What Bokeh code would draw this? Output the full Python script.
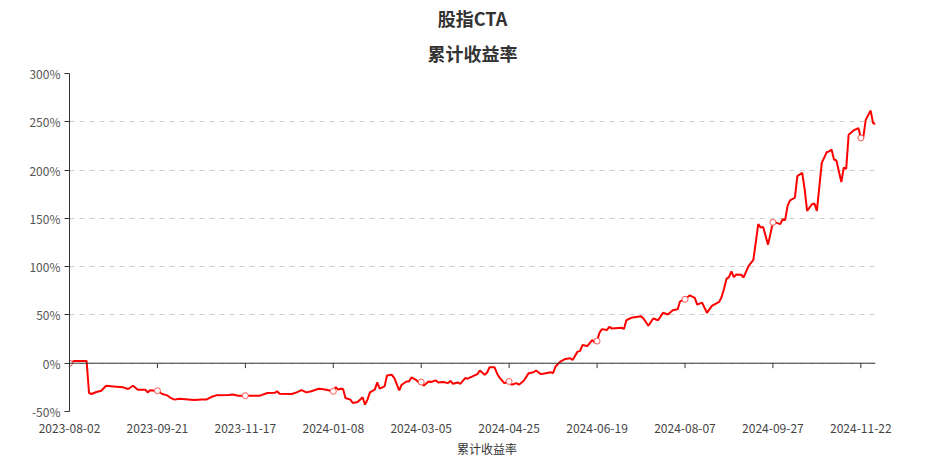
from bokeh.plotting import figure
from bokeh.layouts import column
from bokeh.models import Range1d, FixedTicker, Span, Legend, LegendItem, Title
from bokeh.embed import file_html
from bokeh.resources import INLINE

# ---------------- data ----------------
title_line1 = "股指CTA"
title_line2 = "累计收益率"
series_name = "累计收益率"

# category (trading-day) index of the labelled dates
tick_idx = [0, 36, 72, 108, 144, 180, 216, 252, 288, 324]
tick_dates = ["2023-08-02", "2023-09-21", "2023-11-17", "2024-01-08", "2024-03-05",
              "2024-04-25", "2024-06-19", "2024-08-07", "2024-09-27", "2024-11-22"]
n_days = 331

y_ticks = [-50, 0, 50, 100, 150, 200, 250, 300]
y_labels = ["-50%", "0%", "50%", "100%", "150%", "200%", "250%", "300%"]

day_idx = [0, 2, 7, 8, 9, 11, 13, 15, 18, 22, 24, 26, 28, 31, 32, 33, 35, 36, 38, 40,
           41, 43, 45, 51, 54, 56, 58, 60, 65, 67, 69, 72, 78, 81, 84, 85, 86, 91, 93, 95,
           97, 99, 102, 104, 108, 109, 110, 111, 112, 113, 115, 116, 118, 120, 121, 122, 123, 125, 126, 127,
           129, 130, 132, 133, 135, 136, 138, 139, 140, 142, 143, 144, 145, 147, 148, 150, 151, 153, 155, 156,
           157, 159, 160, 162, 163, 165, 167, 168, 170, 171, 172, 174, 175, 176, 178, 180, 181, 183, 184, 186,
           188, 190, 191, 193, 195, 197, 198, 199, 201, 203, 205, 206, 208, 209, 210, 212, 214, 215, 216, 217,
           218, 220, 221, 222, 226, 227, 228, 230, 234, 235, 237, 239, 241, 243, 245, 247, 249, 250, 252, 254,
           256, 257, 259, 261, 263, 266, 267, 268, 269, 270, 271, 272, 273, 275, 276, 278, 280, 282, 283, 284,
           286, 288, 289, 291, 292, 293, 294, 295, 297, 298, 300, 301, 302, 304, 305, 306, 308, 310, 311, 312,
           313, 314, 316, 317, 318, 319, 321, 323, 324, 325, 326, 328, 329, 330]

ret_pct = [0.0, 2.4, 2.4, -30.9, -31.9, -29.8, -28.5, -23.3, -24.0, -25.0, -26.7, -23.3, -27.4, -27.4, -30.2, -28.0, -28.5, -28.5, -31.9, -33.3,
           -35.3, -37.7, -36.7, -38.0, -37.5, -37.7, -35.0, -33.3, -32.9, -32.5, -33.6, -33.6, -33.6, -30.9, -30.6, -29.1, -31.6, -31.9, -30.2, -27.8,
           -30.2, -29.1, -26.4, -27.0, -29.1, -24.7, -27.4, -26.4, -26.7, -36.0, -37.7, -41.2, -40.1, -35.3, -42.9, -37.7, -30.2, -27.4, -19.9, -26.4,
           -24.0, -12.7, -12.0, -15.4, -28.1, -22.3, -18.9, -18.9, -14.7, -17.5, -19.9, -19.5, -23.3, -18.9, -19.5, -17.8, -19.9, -19.5, -20.6, -18.2,
           -21.3, -19.9, -21.3, -15.4, -16.0, -13.7, -11.3, -7.5, -12.0, -9.6, -4.1, -4.1, -10.3, -14.7, -20.6, -18.9, -22.3, -20.6, -22.3, -18.2,
           -10.3, -9.3, -7.5, -11.3, -10.3, -9.3, -10.3, -3.4, 1.7, 4.4, 5.1, 3.4, 12.0, 12.5, 18.8, 17.8, 24.0, 21.6, 22.9, 31.6,
           35.3, 34.3, 37.7, 36.0, 36.7, 35.5, 44.5, 47.0, 48.7, 46.3, 38.8, 46.3, 44.5, 52.2, 50.4, 54.9, 55.9, 64.1, 66.2, 70.3,
           67.6, 60.7, 62.8, 52.2, 59.4, 63.5, 68.6, 77.2, 87.4, 89.2, 95.0, 89.2, 91.9, 91.6, 88.8, 100.5, 107.0, 144.0, 140.6, 141.0,
           122.8, 145.8, 145.8, 144.0, 149.1, 148.1, 162.9, 168.7, 171.5, 193.7, 197.2, 180.0, 157.7, 164.6, 165.3, 157.7, 207.5, 218.4, 219.4, 221.2,
           210.9, 209.9, 187.6, 202.4, 201.3, 236.6, 241.0, 243.5, 233.2, 233.9, 252.0, 261.6, 248.7, 247.6]

# ---------------- style ----------------
FONT = "Noto Sans CJK SC"
LINE_RED = "#ff0000"

p = figure(width=914, height=435, output_backend="svg", toolbar_location=None,
           x_range=Range1d(0, n_days - 1), y_range=Range1d(-50, 300),
           min_border_left=69, min_border_right=39, min_border_top=73, min_border_bottom=22)
p.outline_line_color = None

# titles: p.title is the outer line, the added Title sits next to the frame
p.title.text = title_line1
p.title.align = "center"
p.title.text_font = FONT
p.title.text_font_size = "18px"
p.title.text_font_style = "bold"
p.title.text_color = "#333333"
p.title.standoff = 0
p.title.text_line_height = 1.0
p.add_layout(Title(text=title_line2, align="center", text_font=FONT, text_font_size="18px",
                   text_font_style="bold", text_color="#333333", standoff=15,
                   text_line_height=1.0), "above")

# grid
p.xgrid.visible = False
p.ygrid.ticker = FixedTicker(ticks=y_ticks)
p.ygrid.grid_line_color = "#cccccc"
p.ygrid.grid_line_dash = "5 5"
p.ygrid.grid_line_width = 1

# y axis
p.yaxis.ticker = FixedTicker(ticks=y_ticks)
p.yaxis.major_label_overrides = {k: v for k, v in zip(y_ticks, y_labels)}
p.yaxis.axis_line_color = "#333333"
p.yaxis.major_tick_line_color = "#333333"
p.yaxis.major_tick_out = 5
p.yaxis.major_tick_in = 0
p.yaxis.minor_tick_out = 0
p.yaxis.minor_tick_in = 0
p.yaxis.major_label_standoff = 4
p.yaxis.major_label_text_font = FONT
p.yaxis.major_label_text_font_size = "12px"
p.yaxis.major_label_text_color = "#555555"

# x axis (labels only, line drawn at zero)
p.xaxis.ticker = FixedTicker(ticks=tick_idx)
p.xaxis.major_label_overrides = {k: v for k, v in zip(tick_idx, tick_dates)}
p.xaxis.axis_line_color = None
p.xaxis.major_tick_line_color = None
p.xaxis.minor_tick_line_color = None
p.xaxis.major_label_standoff = 6
p.xaxis.major_label_text_font = FONT
p.xaxis.major_label_text_font_size = "12px"
p.xaxis.major_label_text_color = "#444444"

# zero axis line with ticks
p.add_layout(Span(location=0, dimension="width", line_color="#333333", line_width=1))
tick_len = 5 * 350 / 340
p.segment(x0=tick_idx, y0=[0] * len(tick_idx), x1=tick_idx, y1=[-tick_len] * len(tick_idx),
          line_color="#333333", line_width=1)

# series
line_r = p.line(day_idx, ret_pct, line_color=LINE_RED, line_width=2)
lookup = dict(zip(day_idx, ret_pct))
marker_vals = [lookup[i] for i in tick_idx]
mark_r = p.scatter(tick_idx, marker_vals, marker="circle", size=6, fill_color="white",
                   line_color="#ff5555", line_width=1)

# legend strip underneath the chart
lg = figure(width=914, height=25, output_backend="svg", toolbar_location=None,
            x_range=Range1d(0, 1), y_range=Range1d(0, 1),
            x_axis_location=None, y_axis_location=None,
            min_border_left=69, min_border_right=39, min_border_top=0, min_border_bottom=0)
lg.outline_line_color = None
lg.xgrid.visible = False
lg.ygrid.visible = False
leg_line = lg.line(x=[], y=[], line_color="#ff3a3a", line_width=2)
leg_mark = lg.scatter(x=[], y=[], marker="circle", size=10, fill_color="white",
                      line_color="#ff3a3a", line_width=2)
legend = Legend(items=[LegendItem(label=series_name, renderers=[leg_line, leg_mark])],
                orientation="horizontal", location="center",
                border_line_alpha=0, background_fill_alpha=0,
                label_text_font=FONT, label_text_font_size="12px", label_text_color="#333333",
                glyph_width=25, glyph_height=14, label_height=14, padding=2, margin=0, spacing=5)
lg.add_layout(legend)

open("out.html", "w").write(file_html(column(p, lg), INLINE))
